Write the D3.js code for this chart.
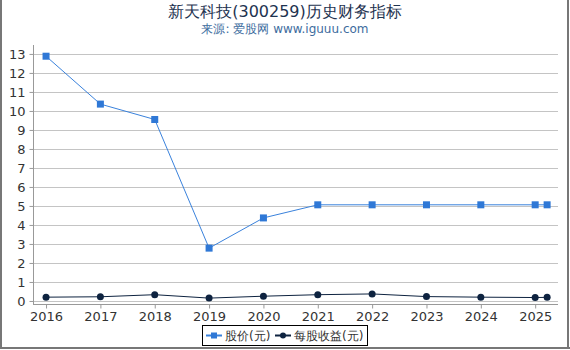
<!DOCTYPE html>
<html>
<head>
<meta charset="utf-8">
<script src="https://cdn.jsdelivr.net/npm/d3@7"></script>
<style>
  body { margin: 0; background: #fff; }
  svg { display: block; font-family: "DejaVu Sans", sans-serif; }
</style>
</head>
<body>
<div class="graphContainer"></div>
<script>
var width = 570;
var height = 350;

// x positions as fractional years (last point is the latest report)
var years = [2016, 2017, 2018, 2019, 2020, 2021, 2022, 2023, 2024, 2025, 2025.22];
var price = [12.88, 10.36, 9.55, 2.78, 4.37, 5.06, 5.06, 5.06, 5.06, 5.06, 5.06];
var eps = [0.2, 0.22, 0.33, 0.15, 0.25, 0.33, 0.37, 0.23, 0.2, 0.18, 0.19];
var xTicks = [2016, 2017, 2018, 2019, 2020, 2021, 2022, 2023, 2024, 2025];
var yTicks = [0, 1, 2, 3, 4, 5, 6, 7, 8, 9, 10, 11, 12, 13];
var seriesNames = ["股价(元)", "每股收益(元)"];

var priceColour = "#3a82dc";
var epsColour = "#0e2340";

var svg = d3
  .select(".graphContainer")
  .append("svg")
  .attr("width", width)
  .attr("height", height);

// frame
svg.append("rect").attr("x", 0).attr("y", 0).attr("width", width).attr("height", height).attr("fill", "#fff");
svg.append("line").attr("x1", 1).attr("x2", 1).attr("y1", 0).attr("y2", 349).attr("stroke", "#777").attr("stroke-width", 2);
svg.append("line").attr("x1", 568).attr("x2", 568).attr("y1", 0).attr("y2", 349).attr("stroke", "#777").attr("stroke-width", 2);
svg.append("line").attr("x1", 0).attr("x2", 570).attr("y1", 348).attr("y2", 348).attr("stroke", "#777").attr("stroke-width", 2);

// title
svg.append("text").attr("x", 285).attr("y", 17).attr("text-anchor", "middle")
  .attr("font-size", 16).attr("fill", "#1e3350").text("新天科技(300259)历史财务指标");
svg.append("text").attr("x", 285).attr("y", 33).attr("text-anchor", "middle")
  .attr("font-size", 12).attr("fill", "#3d6c9e").text("来源: 爱股网 www.iguuu.com");

var xScale = d3.scaleLinear().domain([2015.76, 2025.42]).range([33, 558]);
var yScale = d3.scaleLinear().domain([-0.16, 13.47]).range([304, 45]);

// grid
svg.append("g").selectAll("line").data(yTicks).enter().append("line")
  .attr("x1", 33).attr("x2", 558)
  .attr("y1", function (d) { return Math.round(yScale(d)) + 0.5; })
  .attr("y2", function (d) { return Math.round(yScale(d)) + 0.5; })
  .attr("stroke", "#c4c4c4");

// y axis
var yAxis = d3.axisLeft(yScale).tickValues(yTicks).tickSize(4).tickPadding(4);
var yAxisGroup = svg.append("g").attr("transform", "translate(33.5,0)").call(yAxis);
yAxisGroup.select(".domain").attr("stroke", "#999").attr("d", "M0,45V304");
yAxisGroup.selectAll(".tick line").attr("stroke", "#999");
yAxisGroup.selectAll(".tick text").attr("font-size", 13).attr("fill", "#333")
  .attr("font-family", "DejaVu Sans, sans-serif");

// x axis
var xAxis = d3.axisBottom(xScale).tickValues(xTicks).tickFormat(d3.format("d")).tickSize(4).tickPadding(3);
var xAxisGroup = svg.append("g").attr("transform", "translate(0,304.5)").call(xAxis);
xAxisGroup.select(".domain").attr("stroke", "#999").attr("d", "M33,0H558");
xAxisGroup.selectAll(".tick line").attr("stroke", "#999");
xAxisGroup.selectAll(".tick text").attr("font-size", 13).attr("fill", "#333")
  .attr("font-family", "DejaVu Sans, sans-serif");

var line = d3.line()
  .x(function (d) { return xScale(d[0]); })
  .y(function (d) { return yScale(d[1]); });

var pricePts = d3.zip(years, price);
var epsPts = d3.zip(years, eps);

// eps series
svg.append("path").attr("d", line(epsPts)).attr("fill", "none").attr("stroke", epsColour).attr("stroke-width", 1);
svg.append("g").selectAll("circle").data(epsPts).enter().append("circle")
  .attr("cx", function (d) { return xScale(d[0]); })
  .attr("cy", function (d) { return yScale(d[1]); })
  .attr("r", 3.5).attr("fill", epsColour);

// price series
svg.append("path").attr("d", line(pricePts)).attr("fill", "none").attr("stroke", priceColour).attr("stroke-width", 1);
svg.append("g").selectAll("rect").data(pricePts).enter().append("rect")
  .attr("x", function (d) { return xScale(d[0]) - 3.5; })
  .attr("y", function (d) { return yScale(d[1]) - 3.5; })
  .attr("width", 7).attr("height", 7).attr("fill", "#2f78d6");

// legend
var legend = svg.append("g").attr("id", "legend");
legend.append("rect").attr("x", 202.5).attr("y", 325.5).attr("width", 165).attr("height", 20)
  .attr("fill", "#fff").attr("stroke", "#000").attr("stroke-width", 1);
var items = [
  { x: 206, name: seriesNames[0], colour: priceColour, shape: "square" },
  { x: 275, name: seriesNames[1], colour: epsColour, shape: "circle" }
];
items.forEach(function (it) {
  legend.append("line").attr("x1", it.x).attr("x2", it.x + 16).attr("y1", 335.5).attr("y2", 335.5)
    .attr("stroke", it.colour).attr("stroke-width", 2);
  if (it.shape === "square") {
    legend.append("rect").attr("x", it.x + 5).attr("y", 332.5).attr("width", 6).attr("height", 6).attr("fill", "#2f78d6");
  } else {
    legend.append("circle").attr("cx", it.x + 8).attr("cy", 335.5).attr("r", 3).attr("fill", it.colour);
  }
  legend.append("text").attr("x", it.x + 19).attr("y", 340).attr("font-size", 12).attr("fill", "#333").text(it.name);
});
</script>
</body>
</html>
